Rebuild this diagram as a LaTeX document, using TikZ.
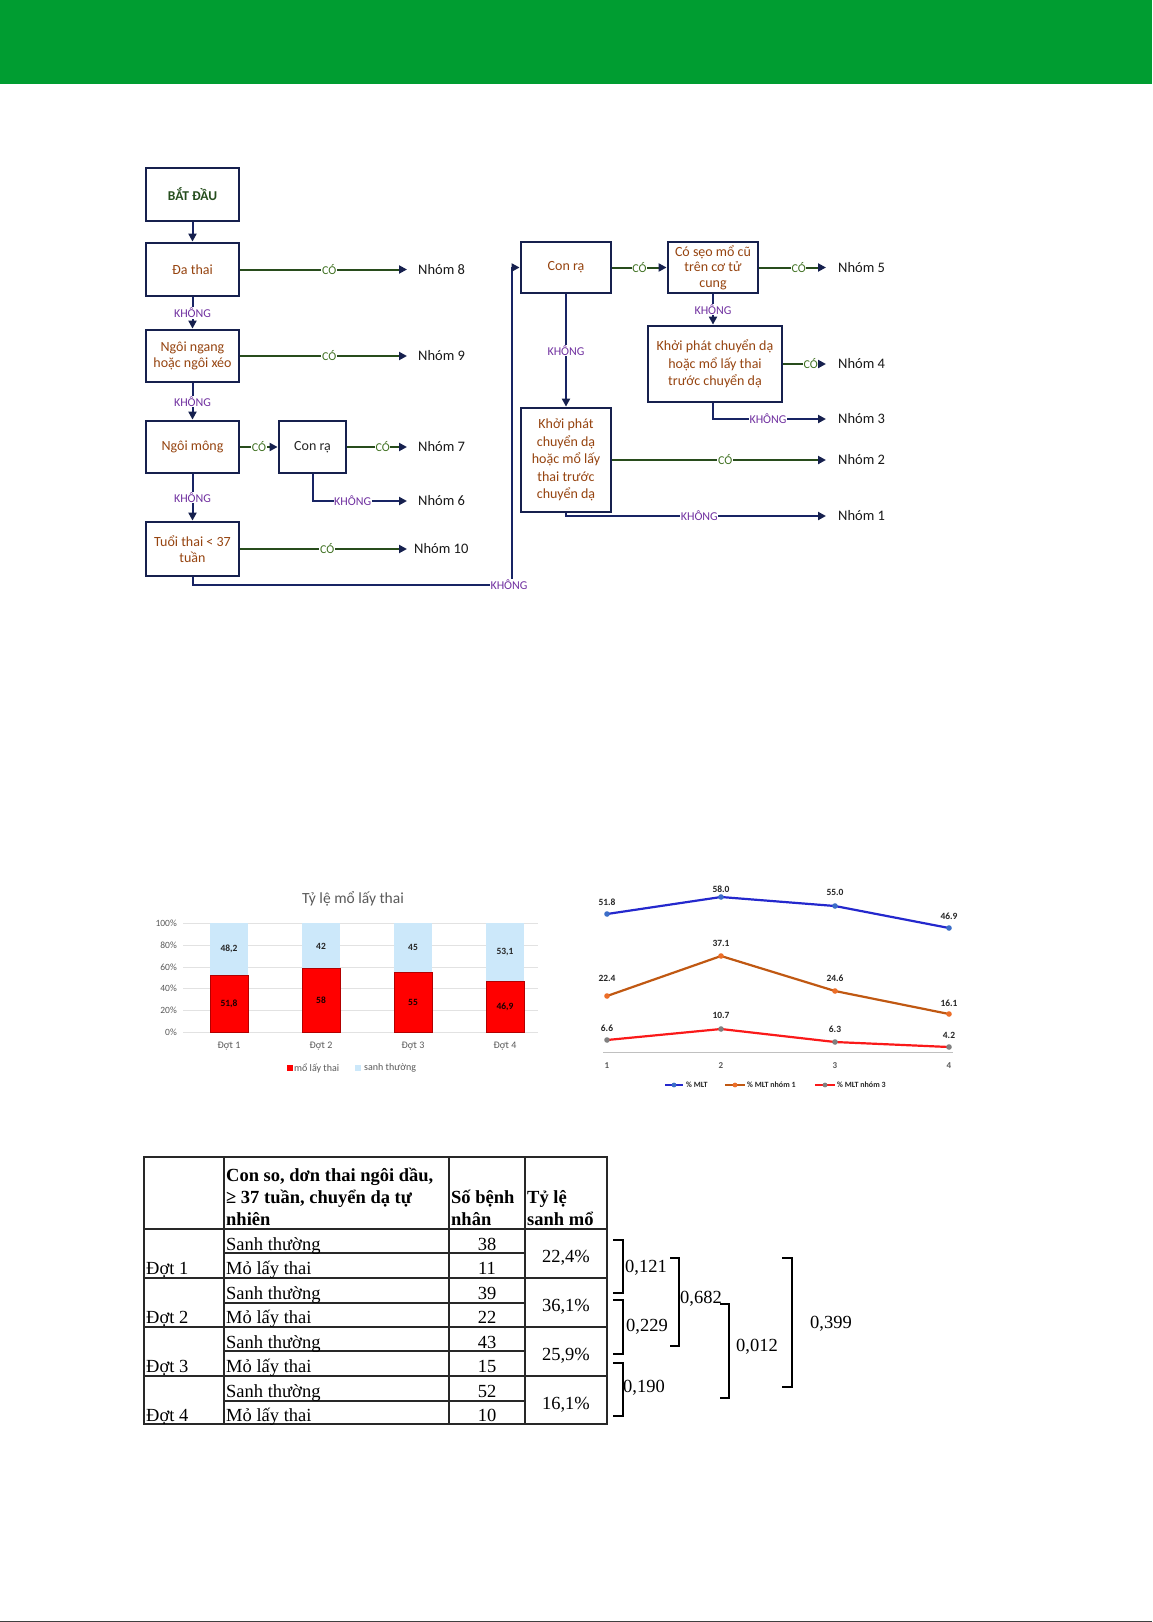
\documentclass[tikz,border=0pt]{standalone}
\usepackage{fontspec}
\setmainfont{Liberation Serif}
\newfontfamily\carl{Carlito}
\usetikzlibrary{arrows.meta}
\definecolor{topgreen}{RGB}{0,157,49}
\definecolor{boxc}{RGB}{22,32,78}
\definecolor{txtc}{RGB}{150,68,16}
\definecolor{startc}{RGB}{38,78,30}
\definecolor{yesline}{RGB}{40,76,28}
\definecolor{noline}{RGB}{24,36,100}
\definecolor{yeslbl}{RGB}{62,112,32}
\definecolor{nolblc}{RGB}{112,48,160}
\definecolor{grpc}{RGB}{25,25,25}
\definecolor{barblue}{RGB}{204,232,250}
\definecolor{barred}{RGB}{255,0,0}
\definecolor{chartgray}{RGB}{89,89,89}
\definecolor{gridc}{RGB}{226,226,226}
\definecolor{lblue}{RGB}{36,40,205}
\definecolor{mblue}{RGB}{60,110,200}
\definecolor{lorange}{RGB}{192,88,18}
\definecolor{morange}{RGB}{236,110,40}
\definecolor{lred}{RGB}{250,25,25}
\definecolor{mgray}{RGB}{128,128,128}
\definecolor{tabline}{RGB}{40,40,40}
\tikzset{
  fbox/.style={draw=boxc, line width=2.8pt, fill=white, text=txtc,
    font=\carl\fontsize{14}{16.5}\selectfont, align=center, inner sep=1pt},
  grp/.style={anchor=west, inner sep=0pt, text=grpc, font=\carl\fontsize{14.5}{16}\selectfont},
  tip/.style={-{Triangle[length=8pt,width=8pt,color=boxc]}},
  yesarrow/.style={draw=yesline, line width=2pt, tip},
  noarrow/.style={draw=noline, line width=2pt, tip},
  ylab/.style={fill=white, inner sep=0.6pt, text=yeslbl, font=\carl\fontsize{12}{12}\selectfont},
  nlab/.style={fill=white, inner sep=0.6pt, text=nolblc, font=\carl\fontsize{12}{12}\selectfont},
  cgray/.style={text=chartgray, font=\carl\fontsize{10}{10}\selectfont, inner sep=0pt},
  vlab/.style={text=black!85, font=\carl\bfseries\fontsize{9.5}{9.5}\selectfont, inner sep=0pt},
  ttext/.style={inner sep=0pt, font=\fontsize{18.5}{22}\selectfont},
  thead/.style={inner sep=0pt, font=\bfseries\fontsize{18.5}{22}\selectfont},
  brk/.style={line width=2.8pt, line cap=butt, line join=miter},
}
\begin{document}
\begin{tikzpicture}[x=1pt,y=-1pt]
\useasboundingbox (0,0) rectangle (1152,1622);
\fill[white] (0,0) rectangle (1152,1622);
\fill[topgreen] (0,0) rectangle (1152,84);
\fill[black!75] (0,1620.5) rectangle (1152,1622);

% ---------------- flowchart: left column ----------------
\node[fbox, minimum width=93pt, minimum height=53pt, text=startc,
      font=\carl\bfseries\fontsize{13.5}{15}\selectfont] (start) at (192.5,194.5) {BẮT ĐẦU};
\node[fbox, minimum width=93pt, minimum height=53pt] (dathai) at (192.5,269.5) {Đa thai};
\node[fbox, minimum width=93pt, minimum height=52pt] (ngang) at (192.5,356) {Ngôi ngang\\hoặc ngôi xéo};
\node[fbox, minimum width=93pt, minimum height=52pt] (mong) at (192.5,447) {Ngôi mông};
\node[fbox, minimum width=67pt, minimum height=52pt, text=black!85] (conra1) at (312.5,447) {Con rạ};
\node[fbox, minimum width=93pt, minimum height=54pt] (tuoi) at (192.5,549) {Tuổi thai < 37\\tuần};

\node[grp] (n8) at (418,269.5) {Nhóm 8};
\node[grp] (n9) at (418,356) {Nhóm 9};
\node[grp] (n7) at (418,447) {Nhóm 7};
\node[grp] (n6) at (418,501) {Nhóm 6};
\node[grp] (n10) at (414,549) {Nhóm 10};

% ---------------- flowchart: right column ----------------
\node[fbox, minimum width=90pt, minimum height=51pt] (conra2) at (566,267.5) {Con rạ};
\node[fbox, minimum width=90pt, minimum height=51pt, font=\carl\fontsize{14}{15.5}\selectfont] (seo) at (713,267.5) {Có sẹo mổ cũ\\trên cơ tử\\cung};
\node[fbox, minimum width=134pt, minimum height=76pt, font=\carl\fontsize{14}{17.3}\selectfont] (kp2) at (715,364) {Khởi phát chuyển dạ\\hoặc mổ lấy thai\\trước chuyển dạ};
\node[fbox, minimum width=90pt, minimum height=104pt, font=\carl\fontsize{14}{17.5}\selectfont] (kp1) at (566,460) {Khởi phát\\chuyển dạ\\hoặc mổ lấy\\thai trước\\chuyển dạ};

\node[grp] (n5) at (838,267.5) {Nhóm 5};
\node[grp] (n4) at (838,364) {Nhóm 4};
\node[grp] (n3) at (838,419) {Nhóm 3};
\node[grp] (n2) at (838,460) {Nhóm 2};
\node[grp] (n1) at (838,516) {Nhóm 1};

% ---------------- connectors ----------------
\draw[noarrow] (start) -- (dathai);
\draw[noarrow] (dathai) -- node[nlab] {KHÔNG} (ngang);
\draw[noarrow] (ngang) -- node[nlab] {KHÔNG} (mong);
\draw[noarrow] (mong) -- node[nlab] {KHÔNG} (tuoi);

\draw[yesarrow, shorten >=11pt] (dathai) -- node[ylab] {CÓ} (n8.west);
\draw[yesarrow, shorten >=11pt] (ngang) -- node[ylab] {CÓ} (n9.west);
\draw[yesarrow] (mong) -- node[ylab] {CÓ} (conra1);
\draw[yesarrow, shorten >=11pt] (conra1) -- node[ylab] {CÓ} (n7.west);
\draw[noarrow, shorten >=11pt] (conra1.south) |- node[nlab, pos=0.69] {KHÔNG} (n6.west);
\draw[yesarrow, shorten >=7pt] (tuoi) -- node[ylab] {CÓ} (n10.west);

\coordinate (turn) at (512,585);
\draw[noarrow] (tuoi.south) |- (turn) |- (conra2.west);
\node[nlab] at ([xshift=-3pt]turn) {KHÔNG};

\draw[yesarrow] (conra2) -- node[ylab] {CÓ} (seo);
\draw[yesarrow, shorten >=12pt] (seo) -- node[ylab] {CÓ} (n5.west);
\draw[noarrow] (seo.south) -- node[nlab] {KHÔNG} (seo.south |- kp2.north);
\draw[yesarrow, shorten >=12pt] (kp2) -- node[ylab] {CÓ} (n4.west);
\draw[noarrow, shorten >=12pt] (seo.south |- kp2.south) |- node[nlab, pos=0.72] {KHÔNG} (n3.west);
\draw[noarrow] (conra2) -- node[nlab] {KHÔNG} (kp1);
\draw[yesarrow, shorten >=12pt] (kp1) -- node[ylab] {CÓ} (n2.west);
\draw[noarrow, shorten >=12pt] (kp1.south) |- node[nlab, pos=0.745] {KHÔNG} (n1.west);

% ---------------- bar chart ----------------
\node[text=chartgray, font=\carl\fontsize{15.5}{16}\selectfont, inner sep=0pt] (btitle) at (353,899) {Tỷ lệ mổ lấy thai};
\foreach \yy/\tt in {923/100\%, 945/80\%, 967/60\%, 988/40\%, 1010/20\%, 1032/0\%}{
  \draw[gridc, line width=0.7pt] (183,\yy) -- (538,\yy);
  \node[cgray, anchor=east, font=\carl\fontsize{9.5}{9.5}\selectfont] at (177,\yy) {\tt};
}
\foreach \xx/\rv/\rl/\bl/\cc in {229/51.8/{51,8}/{48,2}/1, 321/58/58/42/2, 413/55/55/45/3, 505/46.9/{46,9}/{53,1}/4}{
  \pgfmathsetmacro\tp{1032-\rv*1.09}
  \fill[barblue] (\xx-19,923) rectangle (\xx+19,\tp);
  \filldraw[fill=barred, draw=red!70!black, line width=0.7pt] (\xx-19,\tp) rectangle (\xx+19,1032);
  \node[vlab] at (\xx,{(923+\tp)/2}) {\bl};
  \node[vlab, text=black!90!red] at (\xx,{(1032+\tp)/2}) {\rl};
  \node[cgray] at (\xx,1046) {Đợt \cc};
}
\fill[barred] (287,1065) rectangle (293,1071);
\node[cgray, anchor=west] at (294,1068) {mổ lấy thai};
\fill[barblue] (355,1065) rectangle (361,1071);
\node[cgray, anchor=west] at (364,1068) {sanh thường};

% ---------------- line chart ----------------
\draw[gridc!85!black, line width=0.8pt] (603,1052) -- (953,1052);
\foreach \xx/\cc in {607/1, 721/2, 835/3, 949/4}{
  \node[vlab, text=chartgray, font=\carl\bfseries\fontsize{9}{9}\selectfont] at (\xx,1066) {\cc};
}
\draw[lblue, line width=2.2pt] (607,914) -- (721,897) -- (835,906) -- (949,928);
\draw[lorange, line width=2.2pt] (607,996) -- (721,956) -- (835,991) -- (949,1014);
\draw[lred, line width=2.2pt] (607,1040) -- (721,1029) -- (835,1042) -- (949,1047);
\foreach \px/\py in {607/914, 721/897, 835/906, 949/928}{\fill[mblue] (\px,\py) circle (2.8pt);}
\foreach \px/\py in {607/996, 721/956, 835/991, 949/1014}{\fill[morange] (\px,\py) circle (2.8pt);}
\foreach \px/\py in {607/1040, 721/1029, 835/1042, 949/1047}{\fill[mgray] (\px,\py) circle (2.8pt);}
\foreach \px/\py/\tt in {607/902/51.8, 721/889/58.0, 835/892/55.0, 949/916/46.9,
  607/978/22.4, 721/943/37.1, 835/978/24.6, 949/1003/16.1,
  607/1028/6.6, 721/1015/10.7, 835/1029/6.3, 949/1035/4.2}{
  \node[vlab] at (\px,\py) {\tt};
}
\draw[lblue, line width=2pt] (665,1085) -- (683,1085);
\fill[mblue] (674,1085) circle (2.4pt);
\node[vlab, anchor=west, font=\carl\bfseries\fontsize{8}{8}\selectfont] at (686,1085) {\% MLT};
\draw[lorange, line width=2pt] (725,1085) -- (745,1085);
\fill[morange] (735,1085) circle (2.4pt);
\node[vlab, anchor=west, font=\carl\bfseries\fontsize{8}{8}\selectfont] at (747,1085) {\% MLT nhóm 1};
\draw[lred, line width=2pt] (815,1085) -- (835,1085);
\fill[mgray] (825,1085) circle (2.4pt);
\node[vlab, anchor=west, font=\carl\bfseries\fontsize{8}{8}\selectfont] at (837,1085) {\% MLT nhóm 3};

% ---------------- table ----------------
\draw[tabline, line width=1.4pt] (144,1157) rectangle (607,1424);
\foreach \xx in {224,449,525}{\draw[tabline, line width=1.4pt] (\xx,1157) -- (\xx,1424);}
\foreach \yy in {1229,1278,1327,1376}{\draw[tabline, line width=1.4pt] (144,\yy) -- (607,\yy);}
\foreach \yy in {1253,1303,1351,1401}{\draw[tabline, line width=1.4pt] (224,\yy) -- (525,\yy);}

\node[thead, anchor=base west] at (226,1181) {Con so, dơn thai ngôi dầu,};
\node[thead, anchor=base west] at (226,1203) {≥ 37 tuần, chuyển dạ tự};
\node[thead, anchor=base west] at (226,1225) {nhiên};
\node[thead, anchor=base west] at (451,1203) {Số bệnh};
\node[thead, anchor=base west] at (451,1225) {nhân};
\node[thead, anchor=base west] at (527,1203) {Tỷ lệ};
\node[thead, anchor=base west] at (527,1225) {sanh mổ};

\foreach \k/\a/\b/\pc in {0/38/11/{22,4\%}, 1/39/22/{36,1\%}, 2/43/15/{25,9\%}, 3/52/10/{16,1\%}}{
  \pgfmathsetmacro\tp{1229+49*\k}
  \pgfmathtruncatemacro\dd{\k+1}
  \node[ttext, anchor=base west] at (226,\tp+21) {Sanh thường};
  \node[ttext, anchor=base west] at (226,\tp+45) {Mỏ lấy thai};
  \node[ttext, anchor=base west] at (146,\tp+45) {Đợt \dd};
  \node[ttext, anchor=base] at (487,\tp+21) {\a};
  \node[ttext, anchor=base] at (487,\tp+45) {\b};
  \node[ttext, anchor=base] at (566,\tp+33) {\pc};
}

% ---------------- p-value brackets ----------------
\draw[brk] (613,1240) -- (623,1240) -- (623,1293) -- (613,1293);
\draw[brk] (613,1300) -- (623,1300) -- (623,1354) -- (613,1354);
\draw[brk] (613,1363) -- (623,1363) -- (623,1416) -- (613,1416);
\draw[brk] (670,1258) -- (679,1258) -- (679,1346) -- (670,1346);
\draw[brk] (720,1304) -- (729,1304) -- (729,1398) -- (720,1398);
\draw[brk] (782,1258) -- (792,1258) -- (792,1387) -- (782,1387);
\node[ttext, anchor=west] at (625,1268) {0,121};
\node[ttext, anchor=west] at (626,1327) {0,229};
\node[ttext, anchor=west] at (623,1388) {0,190};
\node[ttext, anchor=west] at (680,1299) {0,682};
\node[ttext, anchor=west] at (736,1347) {0,012};
\node[ttext, anchor=west] at (810,1324) {0,399};
\end{tikzpicture}
\end{document}
